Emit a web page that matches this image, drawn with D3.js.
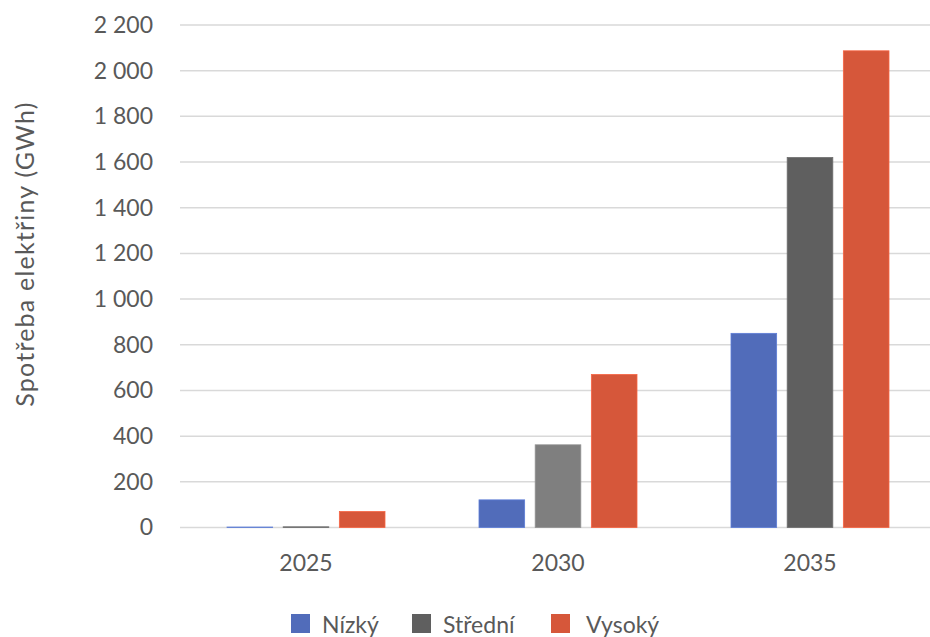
<!DOCTYPE html>
<html>
<head>
<meta charset="utf-8">
<script src="https://cdn.jsdelivr.net/npm/d3@7"></script>
<style>
  body { margin: 0; background: #fff; }
  svg { display: block; font-family: Lato, "Open Sans", sans-serif; }
</style>
</head>
<body>
<div id="chart"></div>
<script>
// years on the x axis
const categories = ["2025", "2030", "2035"];
const seriesNames = ["Nízký", "Střední", "Vysoký"];
// GWh per scenario
const nizky = [2, 121, 850];
const stredni = [3, 362, 1620];
const vysoky = [70, 670, 2087];
const yTicks = [0, 200, 400, 600, 800, 1000, 1200, 1400, 1600, 1800, 2000, 2200];

const seriesValues = [nizky, stredni, vysoky];
const colors = ["#516cba", "#5f5f5f", "#d6573a"];

const width = 930, height = 637;
const margin = {top: 25, left: 180, bottom: 110};

const svg = d3.select("#chart")
  .append("svg")
  .attr("width", width)
  .attr("height", height);

const x = d3.scaleBand()
  .domain(categories)
  .range([margin.left, margin.left + 756]);

const x1 = d3.scaleBand()
  .domain(seriesNames)
  .range([47, 205])
  .paddingInner(0.1875);

const y = d3.scaleLinear()
  .domain([0, 2200])
  .range([527.5, 25]);

const fmt = v => d3.format(",")(v).replace(/,/g, " ");

// gridlines
svg.append("g")
  .selectAll("line")
  .data(yTicks)
  .enter()
  .append("line")
    .attr("x1", margin.left)
    .attr("x2", width)
    .attr("y1", d => y(d))
    .attr("y2", d => y(d))
    .attr("stroke", "#d9d9d9")
    .attr("stroke-width", 1.5);

// y axis labels
const yAxis = svg.append("g")
  .attr("transform", "translate(" + (margin.left - 27) + ",0)")
  .call(d3.axisLeft(y).tickValues(yTicks).tickFormat(fmt).tickSize(0).tickPadding(0));
yAxis.select(".domain").remove();
yAxis.selectAll("text")
  .attr("font-size", 23)
  .attr("fill", "#595959")
  .attr("font-family", "Lato, sans-serif");

// bars
const groups = svg.append("g")
  .selectAll("g")
  .data(categories)
  .enter()
  .append("g")
    .attr("transform", d => "translate(" + x(d) + ",0)");

groups.selectAll("rect")
  .data((c, i) => seriesNames.map((s, j) => ({cat: c, series: s, j: j, value: seriesValues[j][i]})))
  .enter()
  .append("rect")
    .attr("x", d => x1(d.series))
    .attr("y", d => y(d.value))
    .attr("width", x1.bandwidth())
    .attr("height", d => y(0) - y(d.value))
    .attr("fill", d => (d.cat === "2030" && d.j === 1) ? "#7f7f7f" : colors[d.j])
    .attr("stroke", d => d3.color((d.cat === "2030" && d.j === 1) ? "#7f7f7f" : colors[d.j]).brighter(0.4))
    .attr("stroke-width", 0.8);

// x axis labels
const xAxis = svg.append("g")
  .attr("transform", "translate(0," + 555 + ")")
  .call(d3.axisBottom(x).tickSize(0).tickPadding(0));
xAxis.select(".domain").remove();
xAxis.selectAll("text")
  .attr("font-size", 23)
  .attr("fill", "#595959")
  .attr("font-family", "Lato, sans-serif");

// y axis title
svg.append("text")
  .attr("transform", "translate(34,254) rotate(-90)")
  .attr("text-anchor", "middle")
  .attr("font-size", 25)
  .attr("letter-spacing", 1.2)
  .attr("fill", "#595959")
  .text("Spotřeba elektřiny (GWh)");

// legend
const legendX = [291, 412, 551];
const legend = svg.append("g")
  .selectAll("g")
  .data(seriesNames)
  .enter()
  .append("g")
    .attr("transform", (d, i) => "translate(" + legendX[i] + ",614)");
legend.append("rect")
  .attr("width", 19)
  .attr("height", 19)
  .attr("fill", (d, i) => colors[i]);
legend.append("text")
  .attr("x", (d, i) => i === 2 ? 35 : 31)
  .attr("y", 19)
  .attr("font-size", 23)
  .attr("fill", "#595959")
  .text(d => d);
</script>
</body>
</html>
